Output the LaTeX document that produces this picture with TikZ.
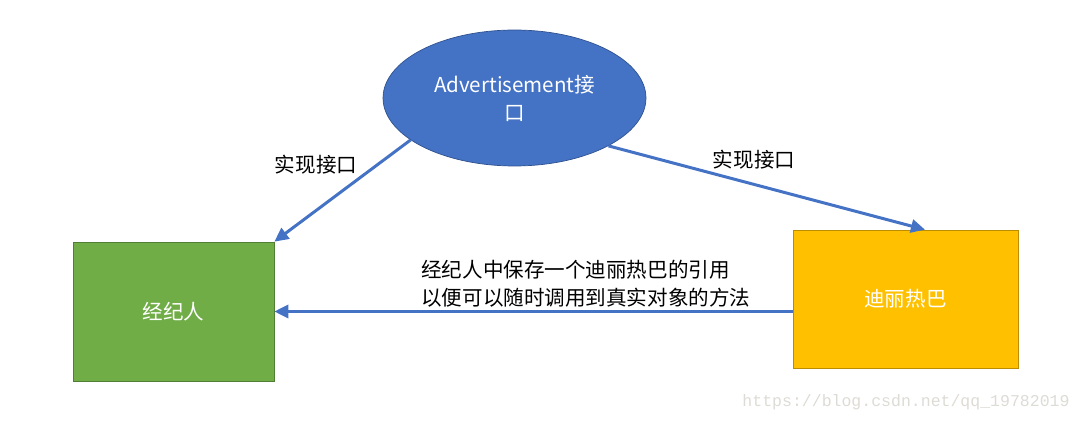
\documentclass[tikz,border=0pt]{standalone}
\usepackage{fontspec}
\setmainfont{Noto Sans CJK SC}
\newfontfamily\wmfont{Liberation Mono}
\usetikzlibrary{arrows.meta,shapes.geometric,calc}

\definecolor{adblue}{HTML}{4472C4}
\definecolor{adborder}{HTML}{2F528F}
\definecolor{agtgreen}{HTML}{70AD47}
\definecolor{agtborder}{HTML}{507E32}
\definecolor{starorange}{HTML}{FFC000}
\definecolor{starborder}{HTML}{BC8C00}
\definecolor{wmgray}{HTML}{DDDBD5}

\tikzset{
    cjk/.style={font=\fontsize{11.7}{15.9}\selectfont},
    linkarrow/.style={adblue, line width=1.7pt, -{Triangle[length=8pt,width=7.5pt]}},
}

\begin{document}
\begin{tikzpicture}[x=0.02cm, y=0.02cm]
        \useasboundingbox (0,0) rectangle (1082,423);

        % Schnittstelle
        \node[ellipse, draw=adborder, fill=adblue, text=white, cjk, align=center,
              minimum width=5.26cm, minimum height=2.72cm, inner sep=0pt]
              (ad) at (514.5, 325) {Advertisement接\\口};

        % Agent und Stern
        \node[rectangle, draw=agtborder, fill=agtgreen, text=white, cjk,
              minimum width=4.02cm, minimum height=2.78cm] (agent) at (173.5, 111.5) {经纪人};
        \node[rectangle, draw=starborder, fill=starorange, text=white, cjk,
              minimum width=4.5cm, minimum height=2.76cm] (star) at (905.5, 124) {迪丽热巴};

        % Pfeile
        \coordinate (startop) at ($(star.north)+(19.5,0)$);
        \draw[linkarrow] (ad.202) -- (agent.north east);
        \draw[linkarrow] (ad.333) -- (startop);
        \draw[linkarrow] (star.west |- agent.east) -- (agent.east);

        % Beschriftungen
        \node[cjk] (implleft) at (316, 258) {实现接口};
        \node[cjk] (implright) at (754, 263) {实现接口};
        \node[cjk, anchor=west, align=left, inner sep=0pt] (refnote) at (421, 139)
              {经纪人中保存一个迪丽热巴的引用\\以便可以随时调用到真实对象的方法};

        % Wasserzeichen
        \node[wmgray, font=\wmfont\fontsize{9.4}{11}\selectfont] (wm) at (906, 21)
              {https://blog.csdn.net/qq\_19782019};
    \end{tikzpicture}
\end{document}
